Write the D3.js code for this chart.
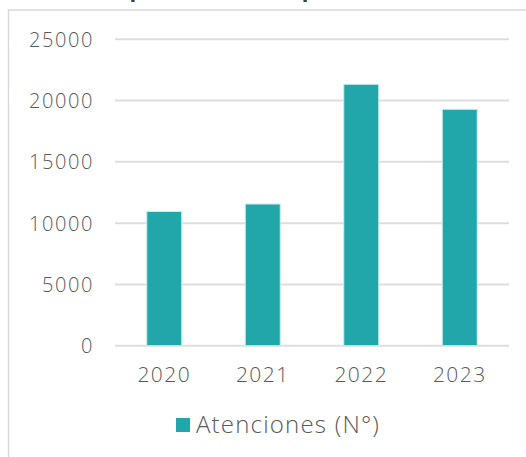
<!DOCTYPE html>
<html>
<head>
<meta charset="utf-8">
<script src="https://cdn.jsdelivr.net/npm/d3@7/dist/d3.min.js"></script>
<style>
  html, body { margin: 0; padding: 0; background: #ffffff; }
  svg { display: block; }
</style>
</head>
<body>
<script>
// ---- data ----
const categories = ["2020", "2021", "2022", "2023"];
const atenciones = [10950, 11560, 21330, 19290];
const yTicks = [0, 5000, 10000, 15000, 20000, 25000];
const seriesName = "Atenciones (N°)";
const titleText = "Atenciones por modalidad, por año";

const W = 526, H = 457;
const FONT = "'Open Sans', 'DejaVu Sans', sans-serif";
const TEXT_COLOR = "#595959";
const BAR_COLOR = "#21a6aa";
const GRID_COLOR = "#dedede";

const svg = d3.select("body").append("svg")
  .attr("width", W).attr("height", H);

// title (clipped by the top edge in the reference)
svg.append("text")
  .attr("x", 194).attr("y", -3)
  .attr("text-anchor", "middle")
  .attr("font-family", FONT)
  .attr("font-weight", 700)
  .attr("font-size", 22)
  .attr("fill", "#404040")
  .text(titleText);

// chart area border
svg.append("rect")
  .attr("x", 8.5).attr("y", 10)
  .attr("width", 600).attr("height", 600)
  .attr("fill", "none")
  .attr("stroke", "#d9d9d9")
  .attr("stroke-width", 1.5);

const x = d3.scaleBand()
  .domain(categories)
  .range([115, 509])
  .paddingInner(0.645)
  .paddingOuter(0.3225);

const y = d3.scaleLinear()
  .domain([0, 25000])
  .range([345.7, 39.3]);

// gridlines
svg.append("g")
  .selectAll("line")
  .data(yTicks)
  .join("line")
  .attr("x1", 115).attr("x2", 509)
  .attr("y1", d => y(d)).attr("y2", d => y(d))
  .attr("stroke", GRID_COLOR)
  .attr("stroke-width", 2);

// y axis labels
const yAxis = d3.axisLeft(y).tickValues(yTicks).tickSize(0).tickPadding(0).tickFormat(d3.format("d"));
const gy = svg.append("g").attr("transform", "translate(94,0)").call(yAxis);
gy.select(".domain").remove();
gy.selectAll("text")
  .attr("font-family", FONT)
  .attr("font-weight", 300)
  .attr("font-size", 20)
  .attr("letter-spacing", "1.6px")
  .attr("fill", TEXT_COLOR)
  .attr("dy", "0.35em");

// bars
svg.append("g")
  .selectAll("rect")
  .data(categories.map((c, i) => ({ c, v: atenciones[i] })))
  .join("rect")
  .attr("x", d => x(d.c))
  .attr("width", x.bandwidth())
  .attr("y", d => y(d.v))
  .attr("height", d => y(0) - y(d.v))
  .attr("fill", BAR_COLOR)
  .attr("stroke", "#c8eeee")
  .attr("stroke-width", 1);

// x axis labels
const xAxis = d3.axisBottom(x).tickSize(0).tickPadding(0);
const gx = svg.append("g").attr("transform", "translate(0,382)").call(xAxis);
gx.select(".domain").remove();
gx.selectAll("text")
  .attr("font-family", FONT)
  .attr("font-weight", 300)
  .attr("font-size", 21)
  .attr("letter-spacing", "1.4px")
  .attr("fill", TEXT_COLOR)
  .attr("dy", 0);

// legend
const lg = svg.append("g");
lg.append("rect")
  .attr("x", 176).attr("y", 418)
  .attr("width", 14).attr("height", 14)
  .attr("fill", BAR_COLOR);
lg.append("text")
  .attr("x", 196).attr("y", 433)
  .attr("font-family", FONT)
  .attr("font-weight", 300)
  .attr("font-size", 24)
  .attr("letter-spacing", "1.2px")
  .attr("fill", TEXT_COLOR)
  .text(seriesName);
</script>
</body>
</html>
